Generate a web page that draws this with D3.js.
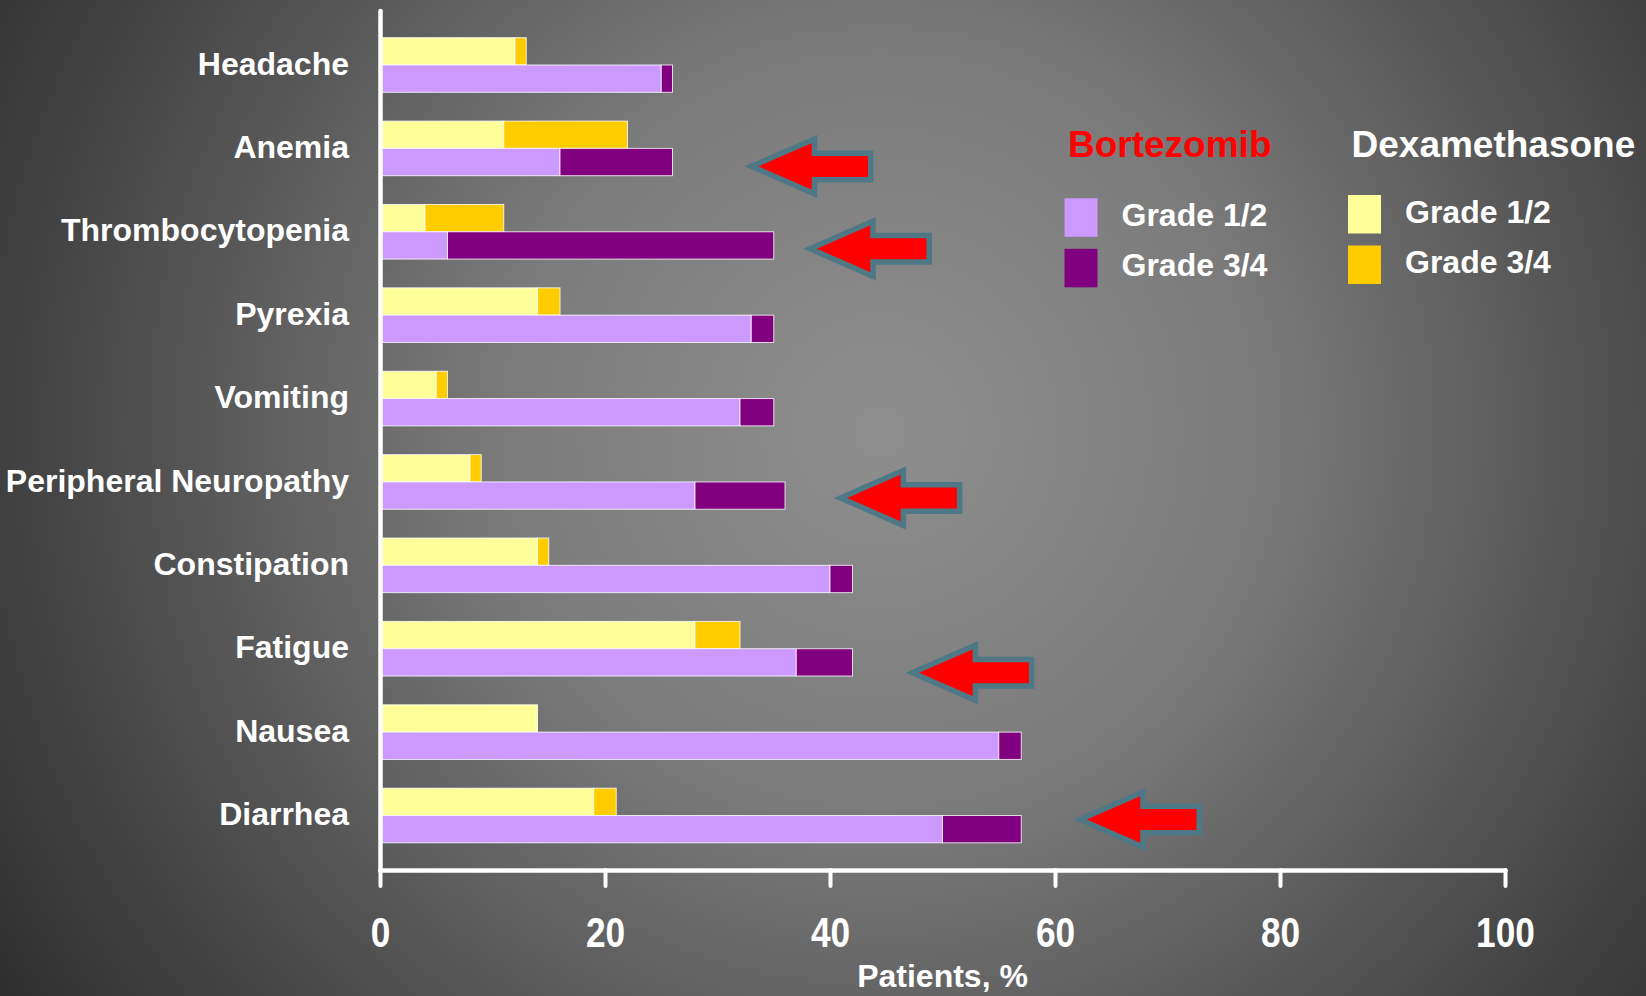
<!DOCTYPE html>
<html>
<head>
<meta charset="utf-8">
<script src="https://cdn.jsdelivr.net/npm/d3@7"></script>
<style>
  html, body { margin: 0; padding: 0; background: #333; }
  svg { display: block; }
  text { font-family: "Liberation Sans", Arial, Helvetica, sans-serif; font-weight: bold; }
</style>
</head>
<body>
<svg id="chart" width="1646" height="996"></svg>
<script>
// Adverse events, % of patients, split by grade
const categories = ["Headache", "Anemia", "Thrombocytopenia", "Pyrexia", "Vomiting",
  "Peripheral Neuropathy", "Constipation", "Fatigue", "Nausea", "Diarrhea"];
const bortezomibGrade12 = [25, 16, 6, 33, 32, 28, 40, 37, 55, 50];
const bortezomibGrade34 = [1, 10, 29, 2, 3, 8, 2, 5, 2, 7];
const dexamethasoneGrade12 = [12, 11, 4, 14, 5, 8, 14, 28, 14, 19];
const dexamethasoneGrade34 = [1, 11, 7, 2, 1, 1, 1, 4, 0, 2];
const xTicks = [0, 20, 40, 60, 80, 100];
const xTitle = "Patients, %";

// Callout arrows: category they flag, tip position in % units, vertical nudge in px
const callouts = [
  { category: "Anemia", at: 32.4, nudge: 18 },
  { category: "Thrombocytopenia", at: 37.6, nudge: 17 },
  { category: "Peripheral Neuropathy", at: 40.3, nudge: 16 },
  { category: "Fatigue", at: 46.7, nudge: 24 },
  { category: "Diarrhea", at: 61.6, nudge: 4 }
];

const colors = {
  bortLow: "#CC99FF", bortHigh: "#800080",
  dexLow: "#FFFF99", dexHigh: "#FFCC00"
};

const W = 1646, H = 996;
const svg = d3.select("#chart");

// Background: soft radial grey gradient
const defs = svg.append("defs");
const grad = defs.append("radialGradient")
  .attr("id", "bg").attr("gradientUnits", "userSpaceOnUse")
  .attr("cx", 880).attr("cy", 430).attr("r", 1050);
[[0, "#8e8e8e"], [0.35, "#7c7c7c"], [0.75, "#4a4a4a"], [1, "#2e2e2e"]].forEach(([o, c]) =>
  grad.append("stop").attr("offset", o).attr("stop-color", c));
svg.append("rect").attr("width", W).attr("height", H).attr("fill", "url(#bg)");

// Scales
const x = d3.scaleLinear().domain([0, 100]).range([380, 1505]);
const y = d3.scaleBand().domain(categories).range([10.5, 870])
  .paddingInner(0.345).paddingOuter(0.326).align(0.5);
const half = y.bandwidth() / 2;

const rows = categories.map((c, i) => ({
  category: c,
  dex: [dexamethasoneGrade12[i], dexamethasoneGrade34[i]],
  bort: [bortezomibGrade12[i], bortezomibGrade34[i]]
}));

// Stacked segments: Dexamethasone on top half of band, Bortezomib on bottom half
const segments = [];
rows.forEach(r => {
  segments.push({ cat: r.category, y0: y(r.category), x0: 0, x1: r.dex[0], fill: colors.dexLow });
  segments.push({ cat: r.category, y0: y(r.category), x0: r.dex[0], x1: r.dex[0] + r.dex[1], fill: colors.dexHigh });
  segments.push({ cat: r.category, y0: y(r.category) + half, x0: 0, x1: r.bort[0], fill: colors.bortLow });
  segments.push({ cat: r.category, y0: y(r.category) + half, x0: r.bort[0], x1: r.bort[0] + r.bort[1], fill: colors.bortHigh });
});

svg.append("g").selectAll("rect")
  .data(segments.filter(s => s.x1 > s.x0))
  .join("rect")
  .attr("x", d => x(d.x0))
  .attr("y", d => d.y0)
  .attr("width", d => x(d.x1) - x(d.x0))
  .attr("height", half)
  .attr("fill", d => d.fill)
  .attr("stroke", "rgba(255,255,255,0.8)")
  .attr("stroke-width", 1);

// X axis
const xAxis = svg.append("g")
  .attr("transform", "translate(0,870)")
  .call(d3.axisBottom(x).tickValues(xTicks).tickSize(16).tickSizeOuter(0).tickPadding(30));
xAxis.select(".domain").attr("stroke", "#fff").attr("stroke-width", 4.5).attr("stroke-linecap", "round");
xAxis.selectAll(".tick line").attr("stroke", "#fff").attr("stroke-width", 4).attr("stroke-linecap", "round");
// condensed numerals: horizontally squeezed bold face
xAxis.selectAll(".tick text")
  .attr("fill", "#fff")
  .attr("transform", "scale(0.82,1)")
  .style("font-family", "'Liberation Sans', Arial, sans-serif")
  .style("font-size", "43px")
  .style("font-weight", "bold");

svg.append("text")
  .attr("x", (x(0) + x(100)) / 2)
  .attr("y", 987)
  .attr("text-anchor", "middle")
  .attr("fill", "#fff")
  .style("font-size", "32px")
  .text(xTitle);

// Y axis (category labels)
const yAxis = svg.append("g")
  .attr("transform", "translate(380,0)")
  .call(d3.axisLeft(y).tickSize(0).tickSizeOuter(0).tickPadding(31));
yAxis.select(".domain").attr("stroke", "#fff").attr("stroke-width", 4.5).attr("stroke-linecap", "round");
yAxis.selectAll(".tick text")
  .attr("fill", "#fff")
  .attr("dy", "0.3em")
  .style("font-size", "32px")
  .style("font-weight", "bold")
  .style("font-family", "'Liberation Sans', Arial, sans-serif");

// Callout arrows pointing left toward the flagged rows
const arrowPath = "M7,0 L70,-27.5 L70,-13.25 L126.25,-13.25 L126.25,13.25 L70,13.25 L70,27.5 Z";
svg.append("g").selectAll("path")
  .data(callouts)
  .join("path")
  .attr("transform", d => `translate(${x(d.at)},${y(d.category) + half + d.nudge})`)
  .attr("d", arrowPath)
  .attr("fill", "#FF0000")
  .attr("stroke", "#4f7886")
  .attr("stroke-width", 5.5)
  .attr("stroke-linejoin", "miter");

// Legend
const legendColumns = [
  { title: "Bortezomib", titleColor: "#FF0000", x: 1064.5, titleY: 156.5, rowY: 198.3,
    items: [{ label: "Grade 1/2", color: colors.bortLow }, { label: "Grade 3/4", color: colors.bortHigh }] },
  { title: "Dexamethasone", titleColor: "#FFFFFF", x: 1348, titleY: 156.5, rowY: 195,
    items: [{ label: "Grade 1/2", color: colors.dexLow }, { label: "Grade 3/4", color: colors.dexHigh }] }
];
const legend = svg.append("g");
legendColumns.forEach(col => {
  const g = legend.append("g");
  g.append("text")
    .attr("x", col.x + 3.5)
    .attr("y", col.titleY)
    .attr("fill", col.titleColor)
    .style("font-size", "37px")
    .text(col.title);
  const item = g.selectAll("g.item").data(col.items).join("g")
    .attr("class", "item")
    .attr("transform", (d, i) => `translate(${col.x},${col.rowY + i * 50.5})`);
  item.append("rect").attr("width", 33).attr("height", 38.5).attr("fill", d => d.color);
  item.append("text")
    .attr("x", 57)
    .attr("y", 27.5)
    .attr("fill", "#fff")
    .style("font-size", "32px")
    .text(d => d.label);
});
</script>
</body>
</html>
